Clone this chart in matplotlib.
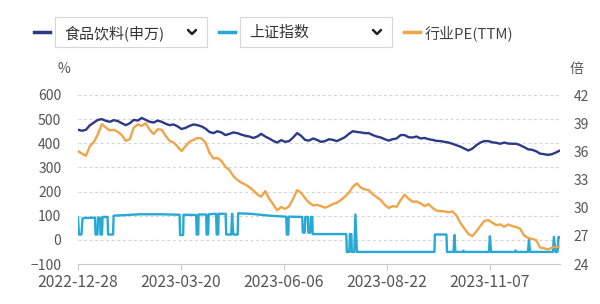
import matplotlib
matplotlib.use('Agg')
import matplotlib.pyplot as plt
from matplotlib.patches import Rectangle
from matplotlib.lines import Line2D
import numpy as np

plt.rcParams['font.family'] = ['Noto Sans CJK SC', 'DejaVu Sans']

# tick labels on the trading-day axis (one every 54 trading days)
tick_days = [0, 54, 108, 162, 216]
tick_labels = ['2022-12-28', '2023-03-20', '2023-06-06', '2023-08-22', '2023-11-07']
last_day = 253

# 食品饮料(申万), left axis (%), sampled about every 2 trading days
food_vals = [456, 452, 456, 475, 486, 497, 500, 493, 489, 496, 492, 483, 475, 483, 497, 494, 505, 497, 489, 486,
             494, 489, 481, 475, 478,
             470, 459, 464, 472, 478, 475, 470, 461, 447, 442, 450, 445, 434, 439, 445, 442, 436, 431, 428, 422,
             428, 439, 428, 420,
             410, 403, 413, 406, 409, 424, 442, 431, 414, 411, 420, 414, 406, 409, 417, 414, 409, 417, 425, 439,
             450, 447, 445, 442,
             442, 434, 428, 424, 417, 411, 417, 420, 434, 434, 425, 424, 428, 420, 422, 417, 414, 410, 409, 406,
             403, 398, 392, 386,
             378, 370, 378, 392, 403, 409, 409, 404, 402, 398, 403, 399, 398, 398, 392, 384, 375, 373, 367, 357,
             355, 352, 355, 362, 370]

# 行业PE(TTM), right axis (倍), same sampling
pe_vals = [36.03, 35.75, 35.52, 36.57, 37.01, 37.83, 38.89, 38.53, 38.22, 38.30, 38.07, 37.73, 37.11, 37.29,
           38.53, 38.86, 38.71, 38.99, 38.30, 37.83, 38.35, 38.30, 37.65, 37.11, 36.93,
           36.50, 36.03, 36.57, 37.01, 37.22, 37.42, 37.37, 36.93, 35.85, 35.24, 35.29, 34.98, 34.36, 34.00,
           33.36, 32.95, 32.67, 32.46, 32.18, 31.84, 31.41, 31.17, 31.77, 30.94,
           30.35, 29.71, 30.07, 29.86, 30.15, 30.94, 31.87, 31.59, 31.02, 30.53, 30.25, 30.30, 30.17, 29.99,
           30.17, 30.38, 30.53, 30.81, 31.17, 31.59, 32.23, 32.59, 32.13, 31.95,
           31.87, 31.41, 31.12, 30.81, 30.30, 29.97, 30.17, 30.09, 30.81, 31.38, 30.94, 30.61, 30.66, 30.45,
           30.17, 30.38, 29.97, 29.68, 29.63, 29.61, 29.50, 29.61, 29.17, 28.37,
           27.78, 27.19, 26.96, 27.47, 28.04, 28.58, 28.68, 28.40, 28.14, 28.22, 27.96, 28.22, 28.04, 27.93,
           27.75, 27.03, 26.78, 26.67, 26.55, 25.75, 25.67, 25.54, 25.75, 25.83, 25.90]

# 上证指数, left axis (%), given at its turning points
sh_days = [0, 0.5, 1.8, 2.4, 8.9, 9.2, 10.2, 10.5, 11.6, 11.8, 12.6, 12.9, 15.5, 15.8, 18.4, 18.7, 32.6, 43.1,
           53.3, 53.6, 55.2, 55.4, 62.0, 62.3, 63.1, 63.3, 67.3, 67.5, 68.3, 68.6, 72.5, 72.8, 73.6, 73.8,
           77.5, 77.8, 80.4, 80.9, 81.5, 83.8, 84.1, 90.4, 100.9, 109.3, 109.6, 110.4, 110.6, 117.7, 118.0,
           119.0, 119.3, 120.6, 120.9, 121.9, 122.2, 123.0, 123.2, 140.8, 141.1, 142.4, 142.7, 143.5, 143.7,
           145.0, 145.6, 146.4, 187.1, 187.3, 193.4, 193.7, 197.1, 197.6, 198.1, 201.8, 202.3, 202.8, 215.7,
           216.2, 216.8, 229.1, 229.6, 230.2, 236.2, 236.7, 237.3, 249.3, 249.8, 250.7, 251.7, 252.2, 253]
sh_vals = [92, 22, 22, 90, 92, 22, 22, 92, 92, 22, 22, 95, 95, 22, 22, 100, 106, 106,
           104, 20, 20, 104, 103, 22, 22, 105, 105, 22, 22, 106, 108, 22, 22, 108,
           108, 22, 22, 108, 22, 22, 110, 108, 100, 96, 22, 22, 96, 95, 30,
           30, 95, 95, 30, 30, 95, 95, 24, 24, -50, -50, 24, 24, -50,
           -50, 105, -50, -50, 22, 22, -50, -50, 20, -50, -50, -45, -50, -50,
           15, -50, -50, -44, -50, -50, 0, -50, -50, 12, -50, -50, 12, 10]

c_food = '#2b3a86'
c_sh = '#28a8d4'
c_pe = '#f0a54a'
c_text = '#555555'

W, H = 600, 304
fig = plt.figure(figsize=(W / 100, H / 100), dpi=100)
fig.patch.set_facecolor('white')

ax = fig.add_axes([78 / W, 1 - 264 / H, (560 - 78) / W, (264 - 95) / H])
ax2 = ax.twinx()

x_food = np.linspace(0, last_day, len(food_vals))
ax.plot(sh_days, sh_vals, color=c_sh, lw=1.7, zorder=3)
ax.plot(x_food, food_vals, color=c_food, lw=1.7, zorder=4)
ax2.plot(x_food, pe_vals, color=c_pe, lw=1.7, zorder=5)

ax.set_xlim(0, last_day)
ax.set_ylim(-100, 600)
ax.set_yticks(range(-100, 601, 100))
ax2.set_ylim(24, 42)
ax2.set_yticks(range(24, 43, 3))
ax.set_xticks(tick_days)
ax.set_xticklabels(tick_labels)

for y in range(0, 601, 100):
    ax.axhline(y, color='#d4d4d4', lw=0.8, ls=(0, (2.5, 2.5)), zorder=1)

for a in (ax, ax2):
    for s in ('top', 'right', 'left'):
        a.spines[s].set_visible(False)
    a.spines['bottom'].set_color('#c8c8c8')
ax2.spines['bottom'].set_visible(False)

ax.tick_params(axis='y', length=0, pad=12, labelsize=10, labelcolor=c_text)
ax2.tick_params(axis='y', length=0, pad=10, labelsize=10, labelcolor=c_text)
ax.tick_params(axis='x', length=4, color='#c8c8c8', pad=3, labelsize=11.3, labelcolor=c_text)

fig.text(64 / W, 1 - 69 / H, '%', ha='center', va='center', fontsize=10, color=c_text)
fig.text(577 / W, 1 - 69 / H, '倍', ha='center', va='center', fontsize=10, color=c_text)


# legend row drawn by hand, pixel positions converted to figure fractions
def fx(px):
    return px / W


def fy(py):
    return 1 - py / H


legend_y = 32
for x0, x1, col in [(34, 50, c_food), (219, 235, c_sh), (404, 420, c_pe)]:
    fig.add_artist(Line2D([fx(x0), fx(x1)], [fy(legend_y), fy(legend_y)], color=col, lw=2.5))

for bx0, bx1, label in [(55, 207, '食品饮料(申万)'), (240, 392, '上证指数')]:
    fig.add_artist(Rectangle((fx(bx0), fy(47)), fx(bx1 - bx0), 30 / H, transform=fig.transFigure,
                             facecolor='white', edgecolor='#d6d6d6', lw=0.8))
    fig.text(fx(bx0 + 9), fy(legend_y + 1), label, ha='left', va='center', fontsize=10.8, color='#333333')
    cx = bx1 - 15
    fig.add_artist(Line2D([fx(cx - 4), fx(cx), fx(cx + 4)], [fy(30), fy(34), fy(30)],
                          color='#222222', lw=1.8, solid_capstyle='round', solid_joinstyle='round'))

fig.text(fx(425), fy(legend_y + 1), '行业PE(TTM)', ha='left', va='center', fontsize=10.8, color='#444444')

fig.savefig('out.png', dpi=100)
